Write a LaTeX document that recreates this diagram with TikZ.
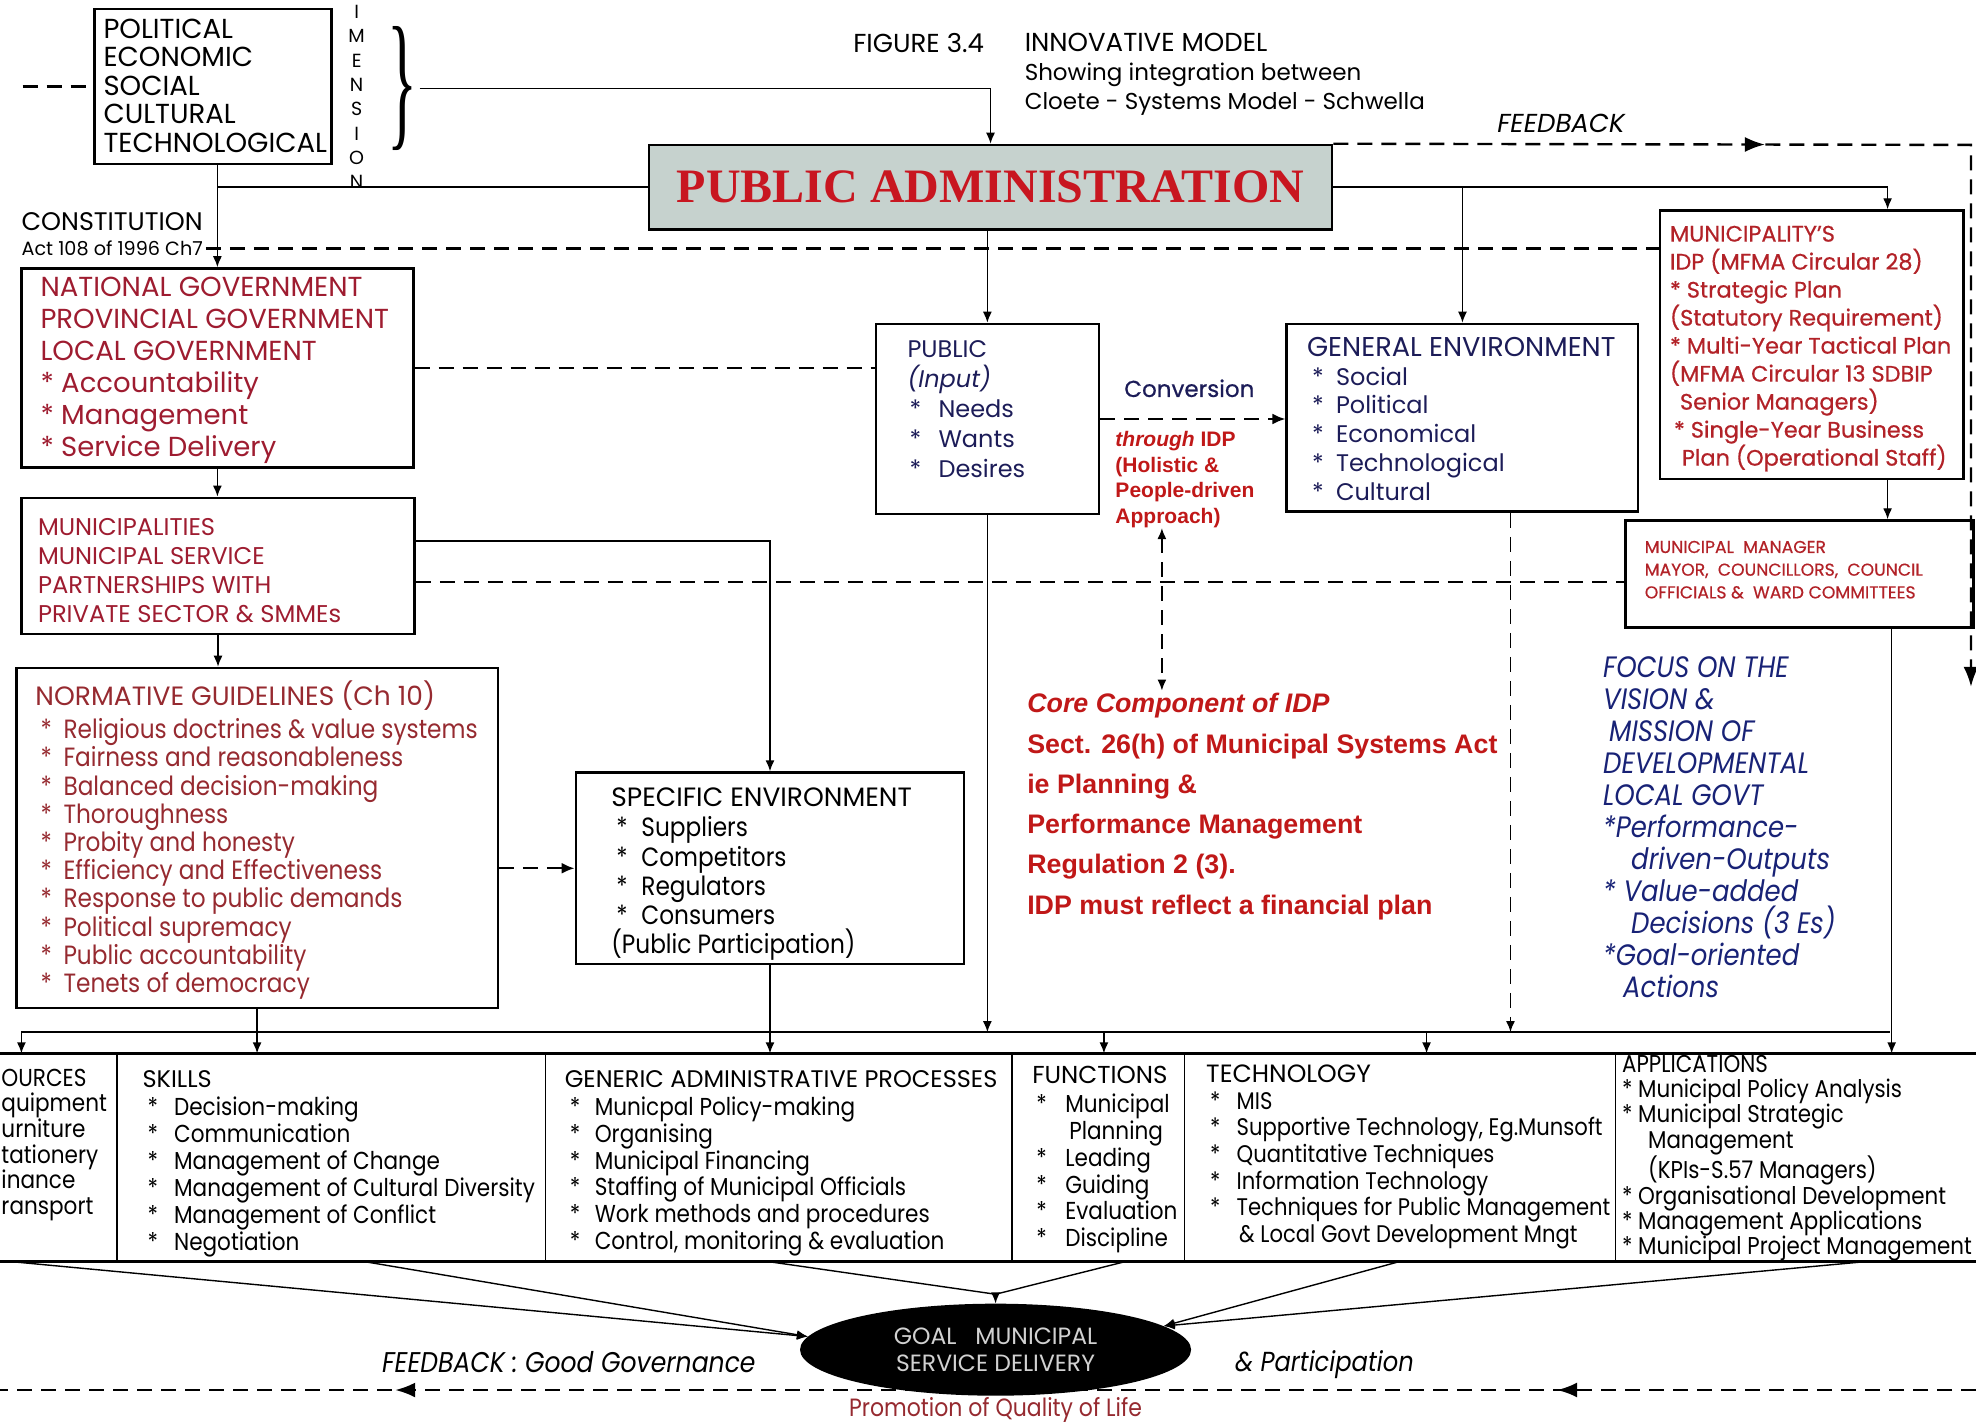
\documentclass[tikz,border=0pt]{standalone}
\usepackage{graphicx}
\usepackage{fontspec}
\setmainfont{Poppins}
\newfontfamily\popc[FakeStretch=0.88]{Poppins}
\newfontfamily\popsb[FakeBold=0.6]{Poppins}
\newfontfamily\arialf{Liberation Sans}
\newfontfamily\timesf{Liberation Serif}
\usetikzlibrary{arrows.meta,fit,shapes.geometric,decorations.markings}

\definecolor{pared}{RGB}{200,22,32}
\definecolor{natred}{RGB}{158,28,48}
\definecolor{normred}{RGB}{150,42,48}
\definecolor{munired}{RGB}{178,34,40}
\definecolor{corered}{RGB}{192,24,24}
\definecolor{navy}{RGB}{28,28,88}
\definecolor{focusblue}{RGB}{24,34,118}
\definecolor{pafill}{RGB}{198,210,206}

\newcommand\fsz[2]{\fontsize{#1}{#2}\selectfont}
\newcommand\st[1]{\makebox[#1][l]{*}}

\begin{document}
\begin{tikzpicture}[x=1.26pt,y=-1.26pt,
  box/.style={draw, line width=2.4pt, inner sep=0pt},
  txt/.style={inner sep=0pt, anchor=north west, align=left},
  conn/.style={line width=1.4pt},
  tip/.style={-{Latex[length=11pt,width=9pt]}},
  arr/.style={conn, tip},
  dsh/.style={line width=2.4pt, dash pattern=on 15pt off 9pt},
  thindsh/.style={line width=1.7pt, dash pattern=on 15pt off 9pt},
  dsharr/.style={dsh, -{Latex[length=13pt,width=11pt]}},
  bigtip/.style={-{Latex[length=20pt,width=15pt]}},
]
\useasboundingbox (0,0) rectangle (1568,1128);

% ---------- boxes ----------
\node[box, fit={(75,7)(263,130)}] (pesct) {};
\node[box, fill=pafill, fit={(515,115)(1057,182)}] (pa) {};
\node[box, fit={(17,213)(328,371)}] (natgov) {};
\node[box, fit={(17,395)(329,503)}] (munis) {};
\node[box, fit={(13,530)(395,800)}] (norm) {};
\node[box, fit={(457,613)(765,765)}] (spec) {};
\node[box, fit={(695,257)(872,408)}] (public) {};
\node[box, fit={(1021,257)(1300,406)}] (genenv) {};
\node[box, fit={(1317,167)(1558,380)}] (idp) {};
\node[box, fit={(1290,413)(1566,498)}] (mm) {};
\node[inner sep=0pt, fit={(0,836)(1568,1001)}] (table) {};

% ---------- bottom table ----------
\draw[line width=2.4pt] (table.north west) -- (table.north east);
\draw[line width=3pt] (table.south west) -- (table.south east);
\foreach \cx in {93,433,803,940,1282}
  \draw[line width=1.6pt] ([xshift=\cx*1.26pt]table.north west) -- ([xshift=\cx*1.26pt]table.south west);

% ---------- texts ----------
\node[txt, font=\fsz{27.5}{28.4}] (pesctT) at (82,15)
  {POLITICAL\\ECONOMIC\\SOCIAL\\CULTURAL\\TECHNOLOGICAL};
\node[txt, anchor=north, align=center, font=\fsz{19}{24.3}] (dimT) at (283,4)
  {I\\M\\E\\N\\S\\I\\O\\N};
\node[inner sep=0pt] (brace) at (319,70) {\resizebox{30pt}{104pt}{\timesf\}}};

\node[txt, anchor=base west, font=\fsz{26}{26}] (figno) at (677,42) {FIGURE 3.4};
\node[txt, font=\fsz{23}{29}] (ttl) at (813,26)
  {{\fsz{26}{29}INNOVATIVE MODEL}\\Showing integration between\\Cloete - Systems Model - Schwella};
\node[txt, anchor=base west, font=\itshape\fsz{26}{26}] (fbT) at (1188,105) {FEEDBACK};

\node[txt, anchor=base west, font=\fsz{25.4}{25}] (const) at (17,183) {CONSTITUTION};
\node[txt, anchor=base west, font=\fsz{19.2}{19}] (act) at (17,203) {Act 108 of 1996 Ch7};

\node[inner sep=0pt, font=\timesf\bfseries\fsz{48}{48}, text=pared] (paT) at (pa.center) {PUBLIC ADMINISTRATION};

\node[txt, text=natred, font=\fsz{27.5}{32}] (natT) at (32,220)
  {NATIONAL GOVERNMENT\\PROVINCIAL GOVERNMENT\\LOCAL GOVERNMENT\\* Accountability\\* Management\\* Service Delivery};

\node[txt, text=natred, font=\fsz{24.2}{29}] (munT) at (30,411)
  {MUNICIPALITIES\\MUNICIPAL\ SERVICE\\PARTNERSHIPS\ WITH\\PRIVATE\ SECTOR \&\ SMMEs};

\node[txt, anchor=base west, text=normred, font=\fsz{26.5}{26}] (normH) at (28,560)
  {NORMATIVE GUIDELINES (Ch 10)};
\node[txt, text=normred, font=\popc\fsz{26.4}{28.2}] (normL) at (32,570)
  {\st{23pt}Religious doctrines \& value systems\\
   \st{23pt}Fairness and reasonableness\\
   \st{23pt}Balanced decision-making\\
   \st{23pt}Thoroughness\\
   \st{23pt}Probity and honesty\\
   \st{23pt}Efficiency and Effectiveness\\
   \st{23pt}Response to public demands\\
   \st{23pt}Political supremacy\\
   \st{23pt}Public accountability\\
   \st{23pt}Tenets of democracy};

\node[txt, anchor=base west, font=\fsz{26.5}{26}] (specH) at (485,640) {SPECIFIC ENVIRONMENT};
\node[txt, font=\popc\fsz{26.4}{29.2}] (specT) at (485,648)
  {\hspace*{5pt}\st{25pt}Suppliers\\
   \hspace*{5pt}\st{25pt}Competitors\\
   \hspace*{5pt}\st{25pt}Regulators\\
   \hspace*{5pt}\st{25pt}Consumers\\
   (Public Participation)};

\node[txt, text=navy, font=\fsz{24}{29.9}] (pubT) at (720,270)
  {PUBLIC\\\textit{(Input)}\\
   \hspace*{2pt}\st{29pt}Needs\\
   \hspace*{2pt}\st{29pt}Wants\\
   \hspace*{2pt}\st{29pt}Desires};

\node[txt, anchor=base west, text=navy, font=\fsz{27.2}{27}] (geH) at (1037,283) {GENERAL ENVIRONMENT};
\node[txt, text=navy, font=\fsz{24}{28.7}] (geT) at (1037,291)
  {\hspace*{5pt}\st{24pt}Social\\
   \hspace*{5pt}\st{24pt}Political\\
   \hspace*{5pt}\st{24pt}Economical\\
   \hspace*{5pt}\st{24pt}Technological\\
   \hspace*{5pt}\st{24pt}Cultural};

\node[txt, anchor=base west, text=navy, font=\popsb\fsz{23}{23}] (convT) at (892,315) {Conversion};

\node[txt, text=corered, font=\arialf\bfseries\fsz{21}{25.6}] (thru) at (885,342)
  {\textit{through} IDP\\(Holistic \&\\People-driven\\Approach)};

\node[txt, text=corered, font=\arialf\bfseries\fsz{26.8}{40.3}] (core) at (815,550)
  {\textit{Core Component of IDP}\\
   Sect. 26(h) of Municipal Systems Act\\
   ie Planning \&\\
   Performance Management\\
   Regulation 2 (3).\\
   IDP must reflect a financial plan};

\node[txt, text=focusblue, font=\popc\itshape\fsz{29.5}{32}] (focus) at (1272,521)
  {FOCUS ON THE\\VISION \&\\\hspace*{6pt}MISSION OF\\DEVELOPMENTAL\\LOCAL GOVT\\
   *Performance-\\\hspace*{28pt}driven-Outputs\\
   * Value-added\\\hspace*{28pt}Decisions (3 Es)\\
   *Goal-oriented\\\hspace*{20pt}Actions};

\node[txt, text=munired, font=\popsb\fsz{22.4}{28}] (idpT) at (1325,179)
  {MUNICIPALITY’S\\IDP (MFMA Circular 28)\\* Strategic Plan\\(Statutory Requirement)\\
   * Multi-Year Tactical Plan\\(MFMA Circular 13 SDBIP\\\hspace*{10pt}Senior Managers)\\
   \hspace*{4pt}* Single-Year Business\\\hspace*{12pt}Plan (Operational Staff)};

\node[txt, text=munired, font=\popsb\fsz{17.2}{22.7}] (mmT) at (1305,429)
  {MUNICIPAL\ \ MANAGER\\MAYOR,\ \ COUNCILLORS,\ \ COUNCIL\\OFFICIALS \&\ \ WARD COMMITTEES};

% table columns
\node[txt, font=\popc\fsz{24.5}{25.7}] (resT) at (1,848)
  {OURCES\\quipment\\urniture\\tationery\\inance\\ransport};
\node[txt, anchor=base west, font=\fsz{24}{24}] (skillH) at (113,863) {SKILLS};
\node[txt, font=\popc\fsz{24.5}{27.1}] (skillT) at (113,870)
  {\hspace*{5pt}\st{26.5pt}Decision-making\\
   \hspace*{5pt}\st{26.5pt}Communication\\
   \hspace*{5pt}\st{26.5pt}Management of Change\\
   \hspace*{5pt}\st{26.5pt}Management of Cultural Diversity\\
   \hspace*{5pt}\st{26.5pt}Management of Conflict\\
   \hspace*{5pt}\st{26.5pt}Negotiation};
\node[txt, anchor=base west, font=\fsz{24}{24}] (genH) at (448,863) {GENERIC ADMINISTRATIVE PROCESSES};
\node[txt, font=\popc\fsz{24.5}{26.9}] (genT) at (448,870)
  {\hspace*{5pt}\st{25pt}Municpal Policy-making\\
   \hspace*{5pt}\st{25pt}Organising\\
   \hspace*{5pt}\st{25pt}Municipal Financing\\
   \hspace*{5pt}\st{25pt}Staffing of Municipal Officials\\
   \hspace*{5pt}\st{25pt}Work methods and procedures\\
   \hspace*{5pt}\st{25pt}Control, monitoring \& evaluation};
\node[txt, anchor=base west, font=\fsz{24.5}{24}] (funH) at (819,860) {FUNCTIONS};
\node[txt, font=\popc\fsz{24.5}{26.8}] (funT) at (819,868)
  {\hspace*{4pt}\st{29pt}Municipal\\
   \hspace*{37pt}Planning\\
   \hspace*{4pt}\st{29pt}Leading\\
   \hspace*{4pt}\st{29pt}Guiding\\
   \hspace*{4pt}\st{29pt}Evaluation\\
   \hspace*{4pt}\st{29pt}Discipline};
\node[txt, anchor=base west, font=\fsz{25}{24}] (techH) at (957,859) {TECHNOLOGY};
\node[txt, font=\popc\fsz{24}{26.7}] (techT) at (957,866)
  {\hspace*{4pt}\st{26.5pt}MIS\\
   \hspace*{4pt}\st{26.5pt}Supportive Technology, Eg.Munsoft\\
   \hspace*{4pt}\st{26.5pt}Quantitative Techniques\\
   \hspace*{4pt}\st{26.5pt}Information Technology\\
   \hspace*{4pt}\st{26.5pt}Techniques for Public Management\\
   \hspace*{33pt}\& Local Govt Development Mngt};
\node[txt, font=\popc\fsz{24.3}{25.4}] (appT) at (1287,837)
  {APPLICATIONS\\
   * Municipal Policy Analysis\\
   * Municipal Strategic\\
   \hspace*{26pt}Management\\
   \hspace*{26pt}(KPIs-S.57 Managers)\\
   * Organisational Development\\
   * Management Applications\\
   * Municipal Project Management};

% ---------- feedback loops ----------
\coordinate (fbR) at (1568,1103);
\coordinate (fbL) at (0,1103);
\draw[dsh, postaction={decorate}, decoration={markings,
      mark=at position 0.212 with {\arrow{Latex[length=20pt,width=15pt]}},
      mark=at position 0.80 with {\arrow{Latex[length=20pt,width=15pt]}}}]
  (fbR) -- (fbL);

\coordinate (fbc) at (1564,115);
\coordinate (fbe) at (1564,545);
\draw[dsh, bigtip, postaction={decorate}, decoration={markings,
      mark=at position 0.366 with {\arrow{Latex[length=20pt,width=15pt]}}}]
  (pa.north east) -- (fbc) -- (fbe);

% ---------- goal ----------
\node[ellipse, fill=black, minimum width=391pt, minimum height=92pt, inner sep=0pt,
      text=white!82!black, align=center, font=\fsz{23.5}{27}] (goal) at (790,1071)
  {GOAL\ \ \ MUNICIPAL\\SERVICE DELIVERY};
\node[anchor=base, inner sep=0pt, text=normred, font=\popc\fsz{25}{25}] (qol) at (790,1124)
  {Promotion of Quality of Life};
\node[txt, anchor=base west, font=\popc\itshape\fsz{28.5}{28}] (fbB) at (303,1089)
  {FEEDBACK : Good Governance};
\node[txt, anchor=base west, font=\popc\itshape\fsz{27.5}{27}] (partT) at (980,1088)
  {\& Participation};

% ---------- connectors ----------
\coordinate (lfree) at (18,66);
\draw[dsh] (lfree |- pesct.west) -- (pesct.west);

\coordinate (btip) at (333,70);
\draw[arr] (btip) -| (pa.north);

\draw[arr] (natgov.north |- pesct.south) -- (natgov.north);
\draw[conn] (pa.west) -- (pa.west -| natgov.north);

\draw[arr] (pa.east) -| ([xshift=-77pt]idp.north east);
\draw[arr] (genenv.north |- pa.east) -- (genenv.north);
\draw[arr] (public.north |- pa.south) -- (public.north);

\draw[dsh] ([xshift=3pt]act.east) -- ([xshift=3pt]act.east -| idp.west);
\draw[dsh] (natgov.east) -- (natgov.east -| public.west);

\draw[arr] (natgov.south) -- (natgov.south |- munis.north);
\draw[arr] ([yshift=25pt]munis.east) -| (spec.north);
\draw[dsh] ([yshift=-16pt]munis.east) -- ([yshift=-16pt]munis.east -| mm.west);
\draw[arr] (munis.south) -- (munis.south |- norm.north);

\draw[dsharr] (norm.east |- spec.west) -- (spec.west);
\draw[dsharr] (public.east) -- (public.east -| genenv.west);

\coordinate (vt) at (922,419);
\coordinate (vb) at (922,548);
\draw[thindsh, {Latex[length=11pt,width=9pt]}-{Latex[length=11pt,width=9pt]}] (vt) -- (vb);

\coordinate (busL) at (17,819);
\coordinate (busR) at (1500,819);
\coordinate (bus1) at (876,819);
\coordinate (bus2) at (1132,819);
\draw[conn] (busL) -- (busR);
\draw[arr] (busL) -- (busL |- table.north);
\draw[arr] (bus1) -- (bus1 |- table.north);
\draw[arr] (bus2) -- (bus2 |- table.north);
\draw[arr] (norm.south) -- (norm.south |- table.north);
\draw[arr] (spec.south) -- (spec.south |- table.north);
\draw[arr] (public.south) -- (public.south |- busL);
\draw[thindsh, tip] ([xshift=48pt]genenv.south) -- ([xshift=48pt]genenv.south |- busL);
\draw[arr] ([xshift=-77pt]idp.south east) -- ([xshift=-77pt]idp.south east |- mm.north);
\draw[arr] ([xshift=-83pt]mm.south east) -- ([xshift=-83pt]mm.south east |- table.north);

\coordinate (t1) at ([xshift=12pt]table.south west);
\coordinate (t2) at ([xshift=365pt]table.south west);
\coordinate (t3) at ([xshift=769pt]table.south west);
\coordinate (t4) at ([xshift=1125pt]table.south west);
\coordinate (t5) at ([xshift=1399pt]table.south west);
\coordinate (t6) at ([xshift=1865pt]table.south west);
\coordinate (apex) at (790,1027);
\draw[arr] (t1) -- (goal.176);
\draw[arr] (t2) -- (goal.176);
\draw[conn] (t3) -- (apex) -- (t4);
\draw[arr] (apex) -- (goal.north);
\draw[arr] (t5) -- (goal.8);
\draw[arr] (t6) -- (goal.8);
\end{tikzpicture}
\end{document}
